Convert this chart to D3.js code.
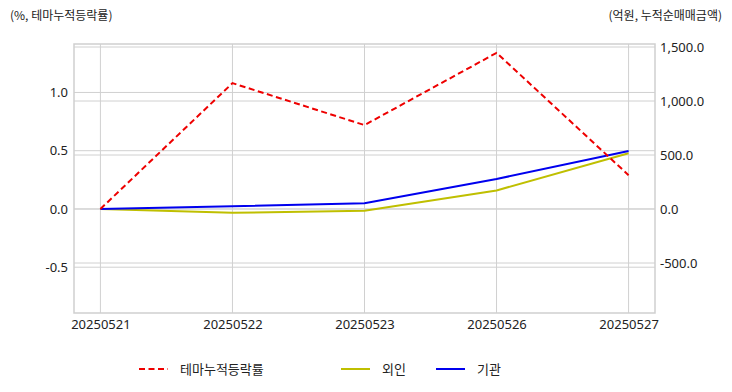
<!DOCTYPE html>
<html><head><meta charset="utf-8">
<script src="https://cdn.jsdelivr.net/npm/d3@7"></script>
<style>body{margin:0;background:#fff}svg{display:block}text{font-family:"Noto Sans CJK KR","Noto Sans",sans-serif;fill:#222}</style>
</head><body><svg id="c" width="732" height="392"></svg>
<script>
const dates = ["20250521","20250522","20250523","20250526","20250527"];
const themeRate = [0, 1.08, 0.72, 1.34, 0.29];
const foreign = [0, -35, -16, 172, 516];
const institution = [0, 25, 53, 278, 537];
const leftTicks = [-0.5, 0.0, 0.5, 1.0];
const rightTicks = [-500, 0, 500, 1000, 1500];
const legendLabels = ["테마누적등락률", "외인", "기관"];

const svg = d3.select("#c");
const L = 74, R = 655, T = 44, B = 313;
const x = d3.scalePoint().domain(dates).range([L, R]).padding(0.2);
const yL = d3.scaleLinear().domain([-0.893, 1.416]).range([B, T]);
const yR = d3.scaleLinear().domain([-963, 1528]).range([B, T]);
const grid = "#d0d0d0";
const hy = f => d => f(d).replace("\u2212", "-");

// grid
const g = svg.append("g");
g.selectAll(".gl").data(leftTicks).join("line")
  .attr("x1", L).attr("x2", R).attr("y1", d => yL(d)).attr("y2", d => yL(d))
  .attr("stroke", grid).attr("stroke-width", 1);
g.selectAll(".gr").data(rightTicks).join("line")
  .attr("x1", L).attr("x2", R).attr("y1", d => yR(d)).attr("y2", d => yR(d))
  .attr("stroke", grid).attr("stroke-width", 1);
g.selectAll(".gx").data(dates).join("line")
  .attr("x1", d => x(d)).attr("x2", d => x(d)).attr("y1", T).attr("y2", B)
  .attr("stroke", grid).attr("stroke-width", 1);
svg.append("rect").attr("x", L).attr("y", T).attr("width", R - L).attr("height", B - T)
  .attr("fill", "none").attr("stroke", "#cfcfcf").attr("stroke-width", 1.5);

// axes
const axL = d3.axisLeft(yL).tickValues(leftTicks).tickFormat(hy(d3.format(".1f"))).tickSize(0).tickPadding(6);
const axR = d3.axisRight(yR).tickValues(rightTicks).tickFormat(hy(d3.format(",.1f"))).tickSize(0).tickPadding(5);
const axB = d3.axisBottom(x).tickSize(0).tickPadding(7);
[[axL, `translate(${L},0)`], [axR, `translate(${R},0)`], [axB, `translate(0,${B})`]].forEach(([a, t]) => {
  const gg = svg.append("g").attr("transform", t).call(a);
  gg.select(".domain").remove();
  gg.selectAll("text").style("font-size", "13px").attr("fill", "#222").style("font-family", '"Noto Sans","Noto Sans CJK KR",sans-serif');
});

// lines
const lineL = d3.line().x((d, i) => x(dates[i])).y(d => yL(d));
const lineR = d3.line().x((d, i) => x(dates[i])).y(d => yR(d));
svg.append("path").attr("d", lineR(foreign)).attr("fill", "none").attr("stroke", "#bfbf00").attr("stroke-width", 2);
svg.append("path").attr("d", lineR(institution)).attr("fill", "none").attr("stroke", "#0000ee").attr("stroke-width", 2);
svg.append("path").attr("d", lineL(themeRate)).attr("fill", "none").attr("stroke", "#ee0000").attr("stroke-width", 2).attr("stroke-dasharray", "6,3.5");

// axis titles
svg.append("text").attr("x", 10).attr("y", 20).style("font-size", "12px").text("(%, 테마누적등락률)");
svg.append("text").attr("x", 722).attr("y", 20).attr("text-anchor", "end").style("font-size", "12px").text("(억원, 누적순매매금액)");

// legend
const leg = [
  {lx: 139, tx: 180, c: "#ee0000", dash: "6,3.5"},
  {lx: 341, tx: 382, c: "#bfbf00", dash: null},
  {lx: 436, tx: 477, c: "#0000ee", dash: null}
];
leg.forEach((o, i) => {
  svg.append("line").attr("x1", o.lx).attr("x2", o.lx + 29).attr("y1", 369).attr("y2", 369)
    .attr("stroke", o.c).attr("stroke-width", 2).attr("stroke-dasharray", o.dash);
  svg.append("text").attr("x", o.tx).attr("y", 374).style("font-size", "13px").text(legendLabels[i]);
});
</script></body></html>
